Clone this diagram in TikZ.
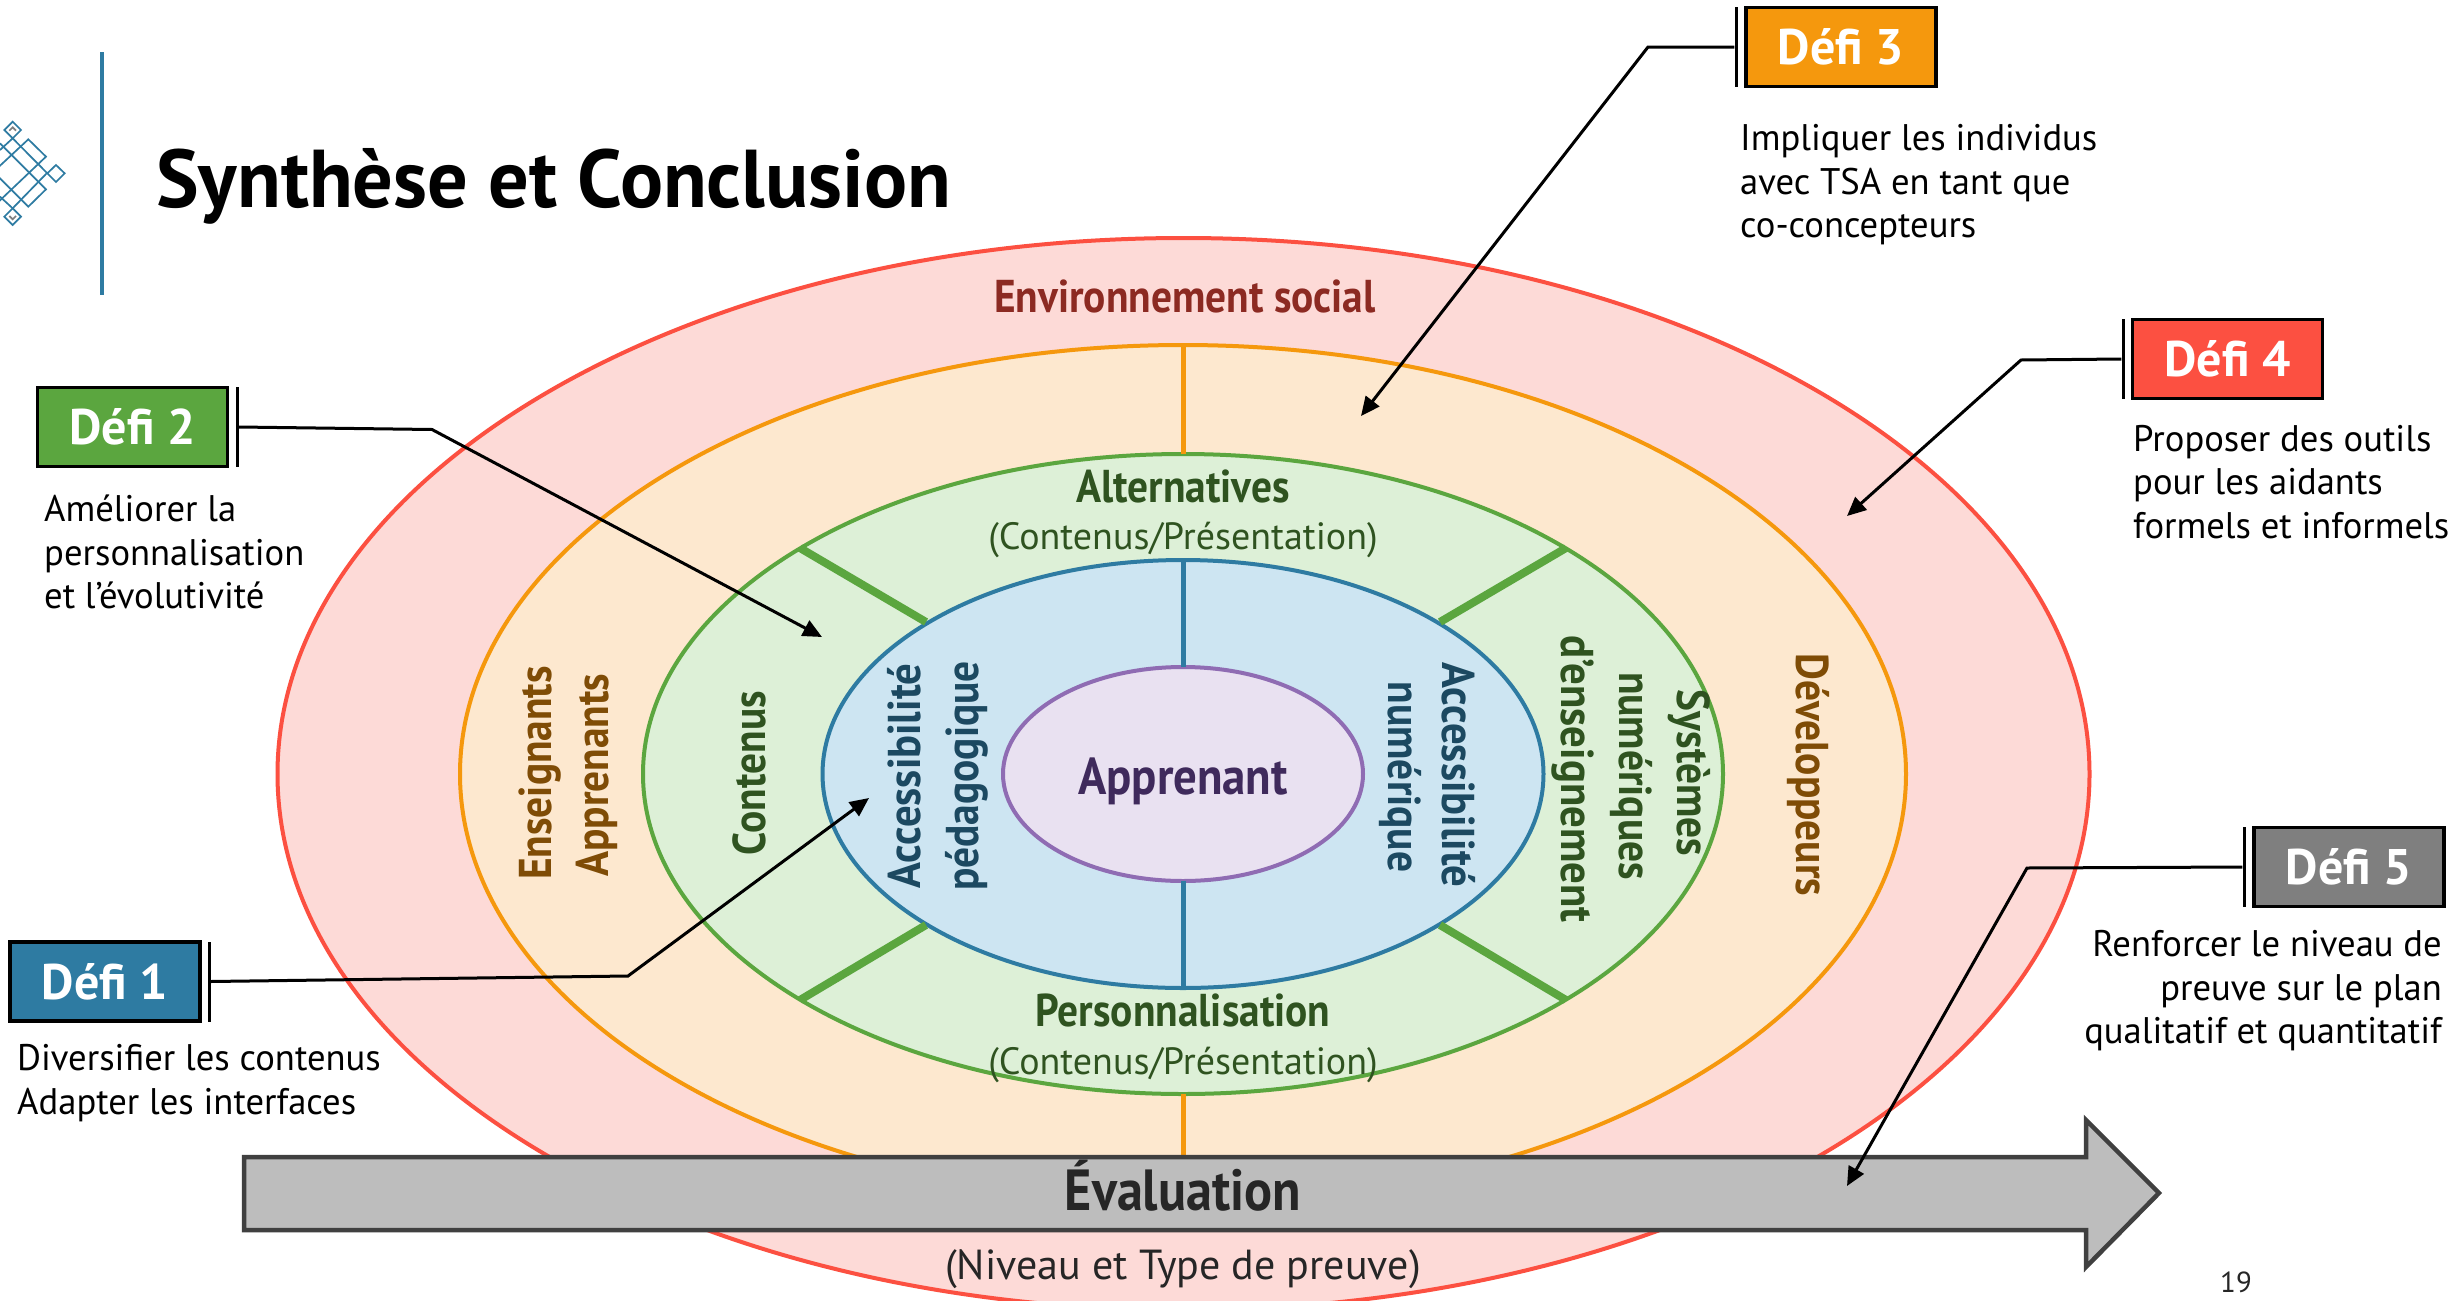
\documentclass[tikz,border=0pt]{standalone}
\usepackage{fontspec}
\usetikzlibrary{arrows.meta}
\setmainfont{PT Sans}
\newfontfamily\labf{PT Sans}[FakeStretch=0.9]
\newfontfamily\labw{PT Sans}[FakeStretch=0.93]
\newfontfamily\bodyf{PT Sans}[FakeStretch=0.99]
\newfontfamily\titf{PT Sans}[FakeStretch=0.98]
\definecolor{cred}{HTML}{FC5041}\definecolor{fred}{HTML}{FDDAD7}
\definecolor{corange}{HTML}{F5980D}\definecolor{forange}{HTML}{FDE8CF}
\definecolor{cgreen}{HTML}{5BA63F}\definecolor{fgreen}{HTML}{DDF0D7}
\definecolor{cblue}{HTML}{2E7BA2}\definecolor{fblue}{HTML}{CDE5F2}
\definecolor{cpurple}{HTML}{8F6CB3}\definecolor{fpurple}{HTML}{E9E1F1}
\definecolor{tred}{HTML}{8C2A22}\definecolor{tbrown}{HTML}{7F4C06}
\definecolor{tgreen}{HTML}{2F5320}\definecolor{tblue}{HTML}{1C4961}\definecolor{tpurple}{HTML}{3F2A5C}
\definecolor{cgrey}{HTML}{7F7F7F}\definecolor{farrow}{HTML}{BDBDBD}\definecolor{darrow}{HTML}{404040}
\tikzset{
 ring/.style={line width=4pt},
 spoke/.style={line width=5pt},
 diag/.style={line width=8pt,cgreen},
 lab/.style={inner sep=0pt,font=\labf\fontsize{46}{49}\selectfont\bfseries},
 labwide/.style={inner sep=0pt,font=\labw\fontsize{46}{49}\selectfont\bfseries},
 sublab/.style={inner sep=0pt,font=\fontsize{38}{44}\selectfont},
 body/.style={inner sep=0pt,font=\bodyf\fontsize{37}{43.5}\selectfont,text=black},
 defibox/.style={draw=black,line width=3.5pt,minimum width=190pt,minimum height=79pt,inner sep=0pt,text=white,font=\fontsize{50}{53}\selectfont\bfseries},
 defibar/.style={fill=black,minimum width=3pt,minimum height=80pt,inner sep=0pt,draw=none},
 callout/.style={line width=3pt,-{Triangle[length=19pt,width=17pt]}}
}
\begin{document}
\begin{tikzpicture}[x=1pt,y=-1pt]
\clip (0,0) rectangle (2461,1301);
\fill[white] (0,0) rectangle (2461,1301);
% rings
\draw[ring,draw=cred,fill=fred] (1183.5,774) ellipse [x radius=906,y radius=536];
\draw[ring,draw=corange,fill=forange] (1183,774) ellipse [x radius=723,y radius=429];
\draw[ring,draw=cgreen,fill=fgreen] (1183,774) ellipse [x radius=540,y radius=320];
\draw[ring,draw=cblue,fill=fblue] (1183,774) ellipse [x radius=360.5,y radius=214];
\draw[ring,draw=cpurple,fill=fpurple] (1183,774) ellipse [x radius=180,y radius=107];
% spokes
\draw[spoke,corange] (1183,345) -- (1183,454);
\draw[spoke,corange] (1183,1094) -- (1183,1160);
\draw[spoke,cblue] (1183,560) -- (1183,667);
\draw[spoke,cblue] (1183,881) -- (1183,988);
\draw[diag] (800,548) -- (926,622);
\draw[diag] (1566,548) -- (1440,622);
\draw[diag] (800,1000) -- (926,925);
\draw[diag] (1566,1000) -- (1440,925);
% logo and rule
\draw[line width=4pt,cblue] (101.5,52) -- (101.5,295);
\begin{scope}[x=.3333pt,y=-.3333pt,yshift=-100pt,line width=1.7pt,draw=cblue]
\draw[cblue] (38,65) -- (63,90) -- (38,115) -- (13,90) -- cycle;
\draw[cblue] (38,325) -- (63,350) -- (38,375) -- (13,350) -- cycle;
\draw[cblue] (168,195) -- (194,220) -- (168,246) -- (142,220) -- cycle;
\draw[cblue] (-30,225) -- (85,118) -- (138,170) -- (-20,320);
\draw[cblue] (-30,205) -- (85,320) -- (138,268) -- (0,130);
\draw[cblue] (38,115) -- (142,220);
\draw[cblue] (38,115) -- (0,150);
\draw[cblue] (38,325) -- (142,218);
\draw[cblue] (38,325) -- (0,290);
\draw[cgrey] (28,92) -- (38,82) -- (48,92);
\draw[cgrey] (28,348) -- (38,358) -- (48,348);
\end{scope}
% title
\node[anchor=west,inner sep=0pt,font=\titf\fontsize{82}{86}\selectfont\bfseries] (title) at (156,186) {Synthèse et Conclusion};
% ring labels
\node[lab,text=tred] (env) at (1185,296) {Environnement social};
\node[lab,text=tgreen] (alt) at (1183,486) {Alternatives};
\node[sublab,text=tgreen] (altsub) at (1183,540) {(Contenus/Présentation)};
\node[lab,text=tgreen] (pers) at (1183,1010) {Personnalisation};
\node[sublab,text=tgreen] (perssub) at (1183,1065) {(Contenus/Présentation)};
\node[lab,text=tpurple,font=\labf\fontsize{52}{55}\selectfont\bfseries] (app) at (1183,781) {Apprenant};
\node[lab,text=tbrown,rotate=90] (ens) at (540,773) {Enseignants};
\node[lab,text=tbrown,rotate=90] (appr) at (597,775) {Apprenants};
\node[lab,text=tgreen,rotate=90] (cont) at (749,773) {Contenus};
\node[labwide,text=tblue,rotate=90] (accp) at (904,776) {Accessibilité};
\node[lab,text=tblue,rotate=90] (ped) at (967,776) {pédagogique};
\node[labwide,text=tblue,rotate=-90] (accn) at (1459,775) {Accessibilité};
\node[lab,text=tblue,rotate=-90] (num) at (1400,777) {numérique};
\node[lab,text=tgreen,rotate=-90] (sys) at (1689,773) {Systèmes};
\node[lab,text=tgreen,rotate=-90] (nums) at (1631,776) {numériques};
\node[labwide,text=tgreen,rotate=-90] (ensg) at (1573,779) {d’enseignement};
\node[lab,text=tbrown,rotate=-90] (dev) at (1808,775) {Développeurs};
% evaluation arrow
\draw[line width=4.5pt,draw=darrow,fill=farrow,line join=miter] (244,1157) -- (2086,1157) -- (2086,1120) -- (2159,1193) -- (2086,1267) -- (2086,1230) -- (244,1230) -- cycle;
\node[inner sep=0pt,text=black!85,font=\labf\fontsize{58}{61}\selectfont\bfseries] (eval) at (1183,1186) {Évaluation};
\node[inner sep=0pt,text=black!85,font=\fontsize{42}{46}\selectfont] (niv) at (1183,1269) {(Niveau et Type de preuve)};
\node[inner sep=0pt,text=black!85,font=\fontsize{29}{32}\selectfont] (page) at (2236,1282) {19};
% défi boxes
\node[defibox,fill=cblue] (d1) at (105,981.5) {Défi 1};
\node[defibar] (b1) at (209,981.5) {};
\node[defibox,fill=cgreen] (d2) at (132.5,427) {Défi 2};
\node[defibar] (b2) at (237,427) {};
\node[defibox,fill=corange] (d3) at (1841,47) {Défi 3};
\node[defibar] (b3) at (1736,47) {};
\node[defibox,fill=cred] (d4) at (2227.5,359) {Défi 4};
\node[defibar] (b4) at (2123,359) {};
\node[defibox,fill=cgrey] (d5) at (2349,867) {Défi 5};
\node[defibar] (b5) at (2244,867) {};
% descriptions
\node[body,anchor=west,align=left] (t1) at (17,1083) {Diversifier les contenus\\Adapter les interfaces};
\node[body,anchor=west,align=left] (t2) at (44,552) {Améliorer la\\personnalisation\\et l’évolutivité};
\node[body,anchor=west,align=left] (t3) at (1740,185) {Impliquer les individus\\avec TSA en tant que\\co-concepteurs};
\node[body,anchor=west,align=left] (t4) at (2133,482) {Proposer des outils\\pour les aidants\\formels et informels};
\node[body,anchor=east,align=right] (t5) at (2442,991) {Renforcer le niveau de\\preuve sur le plan\\qualitatif et quantitatif};
% callouts
\coordinate (k1) at (628,976);\coordinate (e1) at (869,798);
\coordinate (k2) at (432,429.5);\coordinate (e2) at (822,637);
\coordinate (k3) at (1648,47);\coordinate (e3) at (1361,416);
\coordinate (k4) at (2021,360);\coordinate (e4) at (1847,516);
\coordinate (k5) at (2027,868);\coordinate (e5) at (1847,1186);
\draw[callout] (b1.east) -- (k1) -- (e1);
\draw[callout] (b2.east) -- (k2) -- (e2);
\draw[callout] (b3.west) -- (k3) -- (e3);
\draw[callout] (b4.west) -- (k4) -- (e4);
\draw[callout] (b5.west) -- (k5) -- (e5);
\end{tikzpicture}
\end{document}
